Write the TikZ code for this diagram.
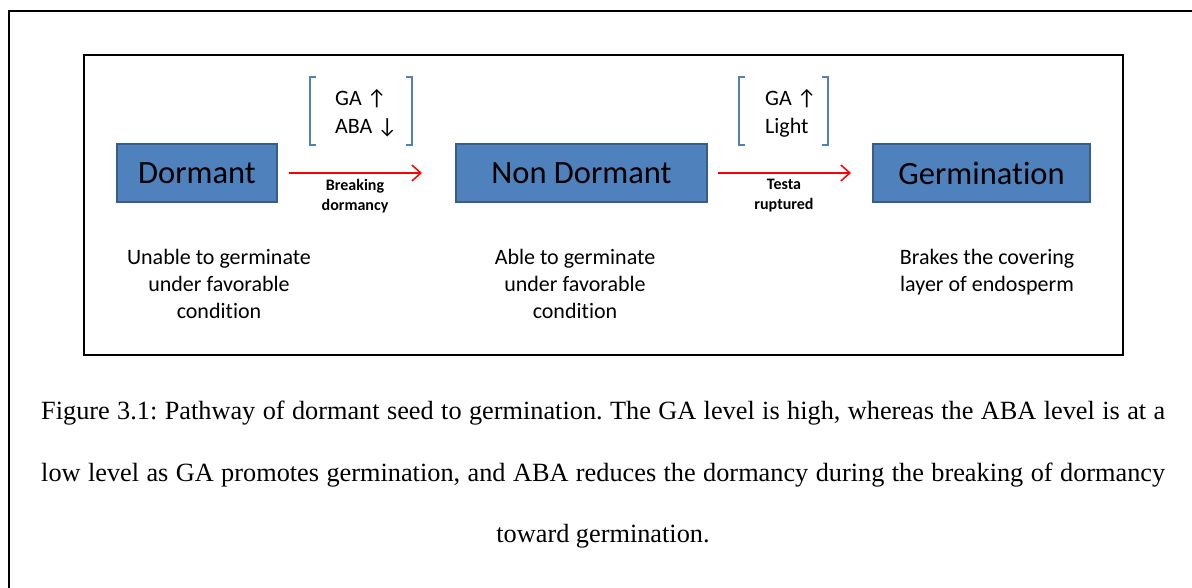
\documentclass[tikz,border=0pt]{standalone}
\usepackage{fontspec}
\setmainfont{Liberation Serif}
\newfontfamily\calfont[Ligatures=NoCommon]{Carlito}
\usetikzlibrary{arrows.meta}
\definecolor{boxfill}{HTML}{4F81BD}
\definecolor{boxline}{HTML}{385D8A}
\definecolor{brk}{HTML}{4F81BD}
\tikzset{
  stagebox/.style={draw=boxline, fill=boxfill, line width=2pt, inner sep=0pt,
    minimum height=58pt, font=\calfont\fontsize{32.5}{37}\selectfont, text=black},
  desc/.style={align=center, inner sep=0pt, anchor=north, font=\calfont\fontsize{22}{27}\selectfont},
  brtext/.style={align=left, inner sep=0pt, anchor=west, font=\calfont\fontsize{22}{28}\selectfont},
  arrlabel/.style={align=center, inner sep=0pt, anchor=north, font=\calfont\bfseries\fontsize{16}{20}\selectfont},
  bracketbox/.style={inner sep=0pt, minimum height=68pt},
  bracketline/.style={draw=brk, line width=1.5pt},
  flow/.style={draw=red, line width=1.5pt, -{Straight Barb[length=9pt,width=16pt]}},
  frame/.style={draw=black, line width=2pt},
  captionline/.style={inner sep=0pt, anchor=base west, font=\fontsize{26.3}{61}\selectfont}
}
\frenchspacing
\begin{document}
\begin{tikzpicture}[x=1pt,y=-1pt]
\useasboundingbox (0,0) rectangle (1192,588);
% outer frame (clipped)
\draw[frame] (9,600) -- (9,11) -- (1200,11);
% inner frame
\node[frame, inner sep=0pt, minimum width=1039pt, minimum height=300pt] (panel) at (603.5,205) {};
% stages
\node[stagebox, minimum width=160pt] (dormant) at (197,173) {Dormant};
\node[stagebox, minimum width=251pt] (nondormant) at (581.5,173) {Non Dormant};
\node[stagebox, minimum width=217pt] (germ) at (981.5,173) {Germination};
% arrows
\draw[flow, shorten <=11pt, shorten >=33pt] (dormant) -- (nondormant);
\draw[flow, shorten <=10pt, shorten >=21pt] (nondormant) -- (germ);
\node[arrlabel] (lab1) at (355,179) {Breaking\\dormancy};
\node[arrlabel] (lab2) at (784,179) {Testa\\ruptured};
% brackets
\node[bracketbox, minimum width=102pt] (br1) at (361,111) {};
\draw[bracketline] ([xshift=6pt]br1.north west) -- (br1.north west) -- (br1.south west) -- ([xshift=6pt]br1.south west);
\draw[bracketline] ([xshift=-6pt]br1.north east) -- (br1.north east) -- (br1.south east) -- ([xshift=-6pt]br1.south east);
\node[brtext] (hormone1) at (335,113) {GA ↑\\ABA ↓};
\node[bracketbox, minimum width=89pt] (br2) at (783.5,111) {};
\draw[bracketline] ([xshift=6pt]br2.north west) -- (br2.north west) -- (br2.south west) -- ([xshift=6pt]br2.south west);
\draw[bracketline] ([xshift=-6pt]br2.north east) -- (br2.north east) -- (br2.south east) -- ([xshift=-6pt]br2.south east);
\node[brtext] (hormone2) at (765,113) {GA ↑\\Light};
% descriptions
\node[desc] (d1) at (219,249) {Unable to germinate\\under favorable\\condition};
\node[desc] (d2) at (575,249) {Able to germinate\\under favorable\\condition};
\node[desc] (d3) at (987,249) {Brakes the covering\\layer of endosperm};
% caption
\node[captionline] (cap1) at (41,419) {\makebox[1124pt][s]{Figure 3.1: Pathway of dormant seed to germination. The GA level is high, whereas the ABA level is at a}};
\node[captionline] (cap2) at (41,481) {\makebox[1124pt][s]{low level as GA promotes germination, and ABA reduces the dormancy during the breaking of dormancy}};
\node[inner sep=0pt, anchor=base, font=\fontsize{26.3}{61}\selectfont] (cap3) at (603,542) {toward germination.};
\end{tikzpicture}
\end{document}
